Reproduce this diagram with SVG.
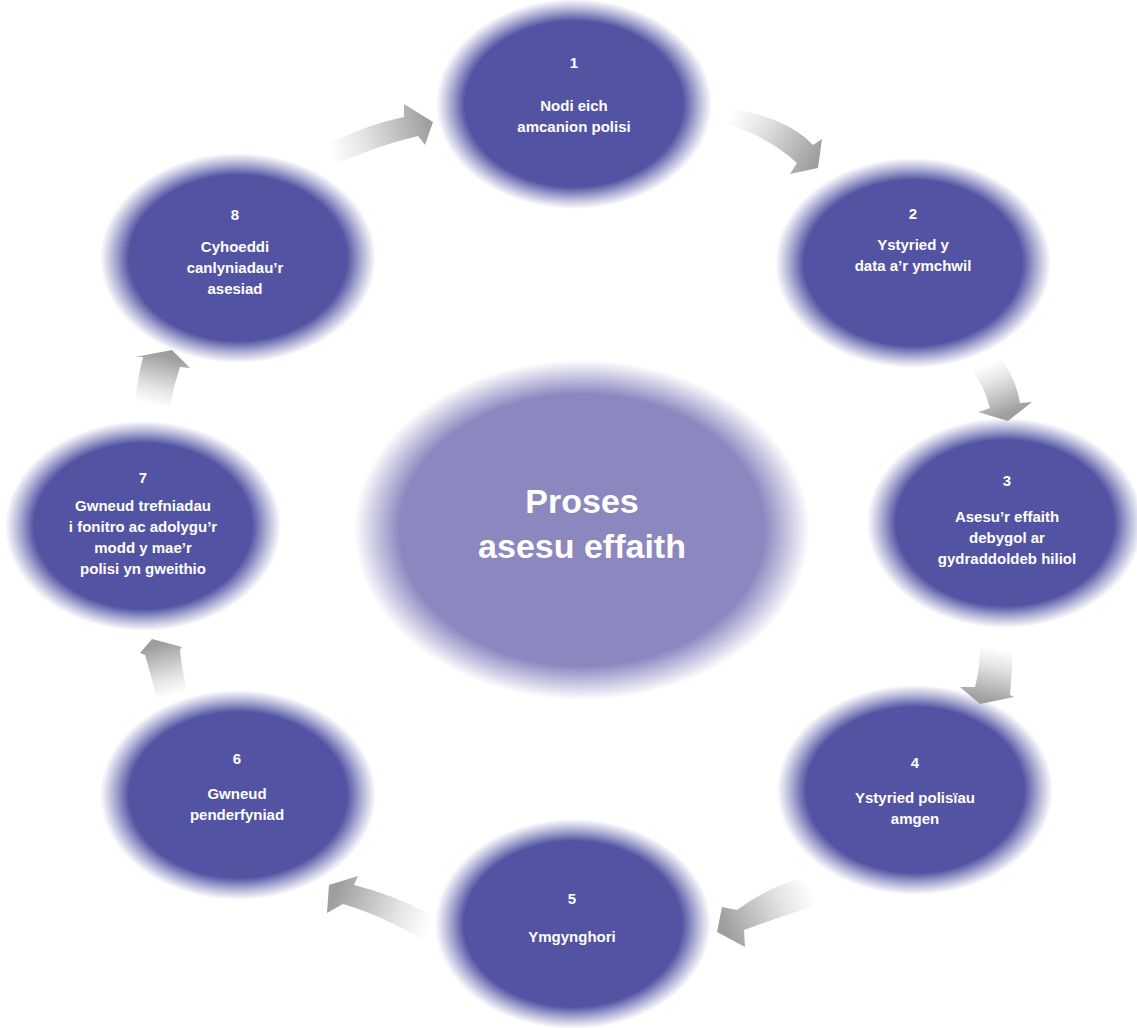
<svg xmlns="http://www.w3.org/2000/svg" width="1137" height="1028" viewBox="0 0 1137 1028">
<style>
.t{font-family:"Liberation Sans",Arial,sans-serif;font-weight:bold;fill:#ffffff;text-anchor:middle;font-size:15px}
.c{font-family:"Liberation Sans",Arial,sans-serif;font-weight:bold;fill:#ffffff;text-anchor:middle;font-size:34px}
.n{fill:url(#ng)}
</style>
<defs>
<radialGradient id="ng" cx="0.5" cy="0.5" r="0.5">
<stop offset="0" stop-color="#5254a3"/>
<stop offset="0.79" stop-color="#5254a3"/>
<stop offset="0.9" stop-color="#5254a3" stop-opacity="0.45"/>
<stop offset="1" stop-color="#5254a3" stop-opacity="0"/>
</radialGradient>
<radialGradient id="cg" cx="0.5" cy="0.5" r="0.5">
<stop offset="0" stop-color="#8b88c0"/>
<stop offset="0.8" stop-color="#8b88c0"/>
<stop offset="0.9" stop-color="#8b88c0" stop-opacity="0.5"/>
<stop offset="1" stop-color="#8b88c0" stop-opacity="0"/>
</radialGradient>
<linearGradient id="a1" gradientUnits="userSpaceOnUse" x1="331" y1="154" x2="430" y2="125"><stop offset="0" stop-color="#fff"/><stop offset="0.35" stop-color="#e4e4e4"/><stop offset="1" stop-color="#9e9e9e"/></linearGradient>
<linearGradient id="a2" gradientUnits="userSpaceOnUse" x1="730" y1="115" x2="815" y2="162"><stop offset="0" stop-color="#fff"/><stop offset="0.35" stop-color="#e4e4e4"/><stop offset="1" stop-color="#9e9e9e"/></linearGradient>
<linearGradient id="a3" gradientUnits="userSpaceOnUse" x1="986" y1="364" x2="1005" y2="415"><stop offset="0" stop-color="#fff"/><stop offset="0.35" stop-color="#e4e4e4"/><stop offset="1" stop-color="#9e9e9e"/></linearGradient>
<linearGradient id="a4" gradientUnits="userSpaceOnUse" x1="996" y1="648" x2="985" y2="700"><stop offset="0" stop-color="#fff"/><stop offset="0.35" stop-color="#e4e4e4"/><stop offset="1" stop-color="#9e9e9e"/></linearGradient>
<linearGradient id="a5" gradientUnits="userSpaceOnUse" x1="812" y1="891" x2="725" y2="930"><stop offset="0" stop-color="#fff"/><stop offset="0.35" stop-color="#e4e4e4"/><stop offset="1" stop-color="#9e9e9e"/></linearGradient>
<linearGradient id="a6" gradientUnits="userSpaceOnUse" x1="429" y1="930" x2="335" y2="893"><stop offset="0" stop-color="#fff"/><stop offset="0.35" stop-color="#e4e4e4"/><stop offset="1" stop-color="#9e9e9e"/></linearGradient>
<linearGradient id="a7" gradientUnits="userSpaceOnUse" x1="172" y1="696" x2="158" y2="645"><stop offset="0" stop-color="#fff"/><stop offset="0.35" stop-color="#e4e4e4"/><stop offset="1" stop-color="#9e9e9e"/></linearGradient>
<linearGradient id="a8" gradientUnits="userSpaceOnUse" x1="152" y1="405" x2="165" y2="356"><stop offset="0" stop-color="#fff"/><stop offset="0.35" stop-color="#e4e4e4"/><stop offset="1" stop-color="#9e9e9e"/></linearGradient>
</defs>
<rect width="1137" height="1028" fill="#ffffff"/>

<g id="center">
<ellipse cx="582" cy="530" rx="228" ry="170" fill="url(#cg)"/>
<text class="c" x="582" y="513">Proses</text>
<text class="c" x="582" y="558">asesu effaith</text>
</g>

<g id="node-1">
<ellipse class="n" cx="574" cy="104" rx="138" ry="105"/>
<text class="t" x="574" y="68">1</text>
<text class="t" x="574" y="111">Nodi eich</text>
<text class="t" x="574" y="132">amcanion polisi</text>
</g>
<g id="node-2">
<ellipse class="n" cx="913" cy="263" rx="138" ry="105"/>
<text class="t" x="913" y="219">2</text>
<text class="t" x="913" y="250">Ystyried y</text>
<text class="t" x="913" y="271">data a’r ymchwil</text>
</g>
<g id="node-3">
<ellipse class="n" cx="1005" cy="523" rx="138" ry="105"/>
<text class="t" x="1007" y="486">3</text>
<text class="t" x="1007" y="522">Asesu’r effaith</text>
<text class="t" x="1007" y="543">debygol ar</text>
<text class="t" x="1007" y="564">gydraddoldeb hiliol</text>
</g>
<g id="node-4">
<ellipse class="n" cx="915" cy="790" rx="138" ry="105"/>
<text class="t" x="915" y="768">4</text>
<text class="t" x="915" y="803">Ystyried polisïau</text>
<text class="t" x="915" y="824">amgen</text>
</g>
<g id="node-5">
<ellipse class="n" cx="573" cy="924" rx="138" ry="105"/>
<text class="t" x="572" y="904">5</text>
<text class="t" x="572" y="942">Ymgynghori</text>
</g>
<g id="node-6">
<ellipse class="n" cx="238" cy="795" rx="138" ry="105"/>
<text class="t" x="237" y="764">6</text>
<text class="t" x="237" y="799">Gwneud</text>
<text class="t" x="237" y="820">penderfyniad</text>
</g>
<g id="node-7">
<ellipse class="n" cx="143" cy="526" rx="138" ry="105"/>
<text class="t" x="143" y="483">7</text>
<text class="t" x="143" y="511">Gwneud trefniadau</text>
<text class="t" x="143" y="532">i fonitro ac adolygu’r</text>
<text class="t" x="143" y="553">modd y mae’r</text>
<text class="t" x="143" y="574">polisi yn gweithio</text>
</g>
<g id="node-8">
<ellipse class="n" cx="238" cy="258" rx="138" ry="105"/>
<text class="t" x="235" y="220">8</text>
<text class="t" x="235" y="252">Cyhoeddi</text>
<text class="t" x="235" y="273">canlyniadau’r</text>
<text class="t" x="235" y="294">asesiad</text>
</g>

<g id="connectors">
<path fill="url(#a1)" d="M328,144 Q368,124 404,117 L404,104 L433,122 L425,145 L418,136 Q376,146 334,165 Z"/>
<path fill="url(#a2)" d="M729,108 Q788,118 813,145 L822,139 L818,168 L790,174 L797,163 Q770,138 728,124 Z"/>
<path fill="url(#a3)" d="M972,370 L1000,358 Q1016,378 1020,403 L1032,402 L1008,421 L978,412 L990,408 Q984,386 972,370 Z"/>
<path fill="url(#a4)" d="M980,648 L1013,648 Q1012,672 1010,695 L1014,697 L980,704 L960,687 L975,687 Q980,668 980,648 Z"/>
<path fill="url(#a5)" d="M800,879 Q768,887 737,910 L722,907 L717,932 L745,947 L744,930 Q782,916 823,903 Z"/>
<path fill="url(#a6)" d="M431,915 Q392,894 354,885 L358,876 L329,885 L327,913 L343,904 Q384,916 428,943 Z"/>
<path fill="url(#a7)" d="M157,700 L187,692 Q182,670 180,650 L182,647 L152,639 L140,653 L145,655 Q152,678 157,700 Z"/>
<path fill="url(#a8)" d="M135,405 L170,405 Q174,385 180,367 L190,368 L172,350 L135,357 L143,357 Q137,380 135,405 Z"/>
</g>
</svg>
